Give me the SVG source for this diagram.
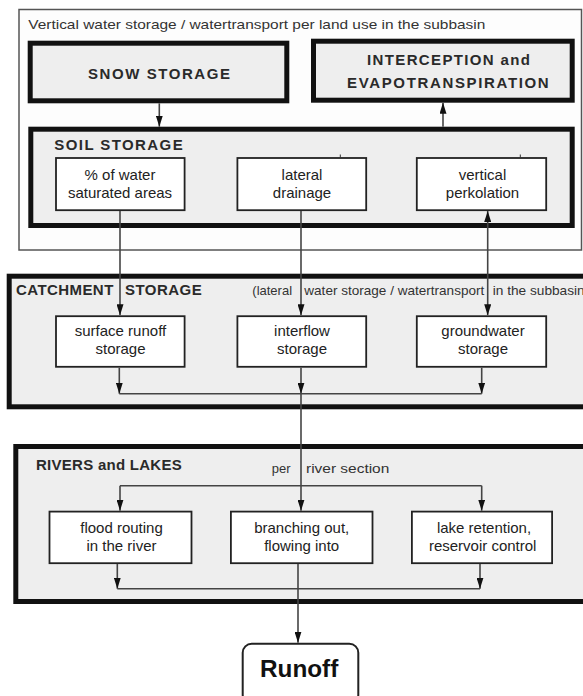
<svg xmlns="http://www.w3.org/2000/svg" width="583" height="696" viewBox="0 0 583 696">
<defs>
<marker id="ah" viewBox="0 0 11 7" refX="11" refY="3.5" markerWidth="11" markerHeight="7" markerUnits="userSpaceOnUse" orient="auto">
<path d="M0,0 L11,3.5 L0,7 z" fill="#111"/>
</marker>
<marker id="ahs" viewBox="0 0 11 7" refX="11" refY="3.5" markerWidth="11" markerHeight="7" markerUnits="userSpaceOnUse" orient="auto-start-reverse">
<path d="M0,0 L11,3.5 L0,7 z" fill="#111"/>
</marker>
</defs>
<style>
.panel{fill:#eeeeee;stroke:#111;stroke-width:5}
.inner{fill:#fff;stroke:#222;stroke-width:1.8}
.hdr{font-family:"Liberation Sans",Arial,sans-serif;font-weight:bold;font-size:15px;fill:#2a2a2a}
.lbl{font-family:"Liberation Sans",Arial,sans-serif;font-size:15px;fill:#222;text-anchor:middle}
.note{font-family:"Liberation Sans",Arial,sans-serif;font-size:13px;fill:#333}
.c{fill:none;stroke:#444;stroke-width:1.6}
</style>
<rect width="583" height="696" fill="#fff"/>
<g id="vertical-frame">
<rect x="19" y="9.5" width="562.5" height="240.5" fill="#fdfdfd" stroke="#555" stroke-width="1.5"/>
<text class="note" x="28.3" y="28.5" font-size="13.5" textLength="457" lengthAdjust="spacingAndGlyphs">Vertical water storage /  watertransport per land use in the subbasin</text>
</g>
<g id="snow-storage">
<rect class="panel" x="30.2" y="43.2" width="256.6" height="57.6"/>
<text class="hdr" x="88" y="79" textLength="142" lengthAdjust="spacing">SNOW STORAGE</text>
</g>
<g id="interception">
<rect class="panel" x="313.5" y="41.2" width="258.7" height="59"/>
<text class="hdr" x="367" y="65" textLength="163" lengthAdjust="spacing">INTERCEPTION and</text>
<text class="hdr" x="347" y="88.3" textLength="201.7" lengthAdjust="spacing">EVAPOTRANSPIRATION</text>
</g>
<g id="soil-storage">
<rect class="panel" x="30.8" y="129.2" width="541.4" height="96.3"/>
<text class="hdr" x="54.3" y="150" textLength="128.4" lengthAdjust="spacing">SOIL STORAGE</text>
</g>
<g id="saturated-areas">
<rect class="inner" x="56" y="158" width="128.6" height="52.2"/>
<text class="lbl" x="120" y="180">% of water</text>
<text class="lbl" x="120" y="198.3">saturated areas</text>
</g>
<g id="lateral-drainage">
<rect class="inner" x="237.4" y="158" width="128.8" height="52.2"/>
<line x1="340.3" y1="154.5" x2="340.3" y2="158" stroke="#333" stroke-width="1"/>
<text class="lbl" x="302" y="180">lateral</text>
<text class="lbl" x="302" y="198.3">drainage</text>
</g>
<g id="vertical-perkolation">
<rect class="inner" x="416.8" y="158" width="129.4" height="52.2"/>
<line x1="520.3" y1="154.5" x2="520.3" y2="158" stroke="#333" stroke-width="1"/>
<text class="lbl" x="482.5" y="180">vertical</text>
<text class="lbl" x="482.5" y="198.3">perkolation</text>
</g>
<g id="catchment-storage">
<rect class="panel" x="9.2" y="276.2" width="590" height="130.6"/>
<text class="hdr" x="16" y="295.3" textLength="97.3" lengthAdjust="spacing">CATCHMENT</text>
<text class="hdr" x="125" y="295.3" textLength="76.7" lengthAdjust="spacing">STORAGE</text>
<text class="note" x="252.3" y="295.3">(lateral</text>
<text class="note" x="304.3" y="295.3" textLength="180" lengthAdjust="spacingAndGlyphs">water storage / watertransport</text>
<text class="note" x="492.7" y="295.3" textLength="92" lengthAdjust="spacingAndGlyphs">in the subbasin</text>
</g>
<g id="surface-runoff-storage">
<rect class="inner" x="56" y="316.2" width="128.6" height="50.6"/>
<text class="lbl" x="120.5" y="336">surface runoff</text>
<text class="lbl" x="120.5" y="354.3">storage</text>
</g>
<g id="interflow-storage">
<rect class="inner" x="237.4" y="316.2" width="128.8" height="50.6"/>
<text class="lbl" x="302" y="336">interflow</text>
<text class="lbl" x="302" y="354.3">storage</text>
</g>
<g id="groundwater-storage">
<rect class="inner" x="416.8" y="316.2" width="129.4" height="50.6"/>
<text class="lbl" x="483" y="336">groundwater</text>
<text class="lbl" x="483" y="354.3">storage</text>
</g>
<g id="rivers-and-lakes">
<rect class="panel" x="15.8" y="446.5" width="590" height="155"/>
<text class="hdr" x="36" y="469.5" textLength="145.7" lengthAdjust="spacing">RIVERS and LAKES</text>
<text class="note" x="271.7" y="473" font-size="14">per</text>
<text class="note" x="306" y="473" font-size="14" textLength="83.3" lengthAdjust="spacingAndGlyphs">river section</text>
</g>
<g id="flood-routing">
<rect class="inner" x="49.5" y="511.6" width="142" height="51.6"/>
<text class="lbl" x="121.5" y="533.3">flood routing</text>
<text class="lbl" x="121.5" y="550.5">in the river</text>
</g>
<g id="branching-out">
<rect class="inner" x="230.9" y="511.6" width="141.6" height="51.6"/>
<text class="lbl" x="301.7" y="533.3">branching out,</text>
<text class="lbl" x="301.7" y="550.5">flowing into</text>
</g>
<g id="lake-retention">
<rect class="inner" x="411.9" y="511.6" width="140.2" height="51.6"/>
<text class="lbl" x="484" y="533.3">lake retention,</text>
<text class="lbl" x="482.7" y="550.5">reservoir control</text>
</g>
<g id="runoff">
<rect x="242.7" y="643.7" width="115.6" height="60" rx="9" fill="#fff" stroke="#222" stroke-width="2"/>
<text x="260" y="677.3" font-family="'Liberation Sans',Arial,sans-serif" font-weight="bold" font-size="23" fill="#111" textLength="78.3" lengthAdjust="spacingAndGlyphs">Runoff</text>
</g>
<g id="connectors">
<line class="c" x1="159.3" y1="103.3" x2="159.3" y2="126.7" marker-end="url(#ah)"/>
<line class="c" x1="443" y1="126.7" x2="443" y2="102.7" marker-end="url(#ah)"/>
<line class="c" x1="120" y1="211" x2="120" y2="315.3" marker-end="url(#ah)"/>
<line class="c" x1="301" y1="211" x2="301" y2="315.3" marker-end="url(#ah)"/>
<line class="c" x1="487.7" y1="211" x2="487.7" y2="315.3" marker-start="url(#ahs)" marker-end="url(#ah)"/>
<line class="c" x1="119.3" y1="367.7" x2="119.3" y2="393.7" marker-end="url(#ah)"/>
<line class="c" x1="301" y1="367.7" x2="301" y2="393.7" marker-end="url(#ah)"/>
<line class="c" x1="481.7" y1="367.7" x2="481.7" y2="393.7" marker-end="url(#ah)"/>
<line class="c" x1="119.3" y1="393.7" x2="481.7" y2="393.7"/>
<line class="c" x1="301" y1="393.7" x2="301" y2="510.7" marker-end="url(#ah)"/>
<line class="c" x1="120" y1="485.7" x2="481.7" y2="485.7"/>
<line class="c" x1="120" y1="485.7" x2="120" y2="510.7" marker-end="url(#ah)"/>
<line class="c" x1="481.7" y1="485.7" x2="481.7" y2="510.7" marker-end="url(#ah)"/>
<line class="c" x1="117.3" y1="564" x2="117.3" y2="588.7" marker-end="url(#ah)"/>
<line class="c" x1="480" y1="564" x2="480" y2="588.7" marker-end="url(#ah)"/>
<line class="c" x1="117.3" y1="588.7" x2="480" y2="588.7"/>
<line class="c" x1="298" y1="564" x2="298" y2="642.7" marker-end="url(#ah)"/>
</g>
</svg>
